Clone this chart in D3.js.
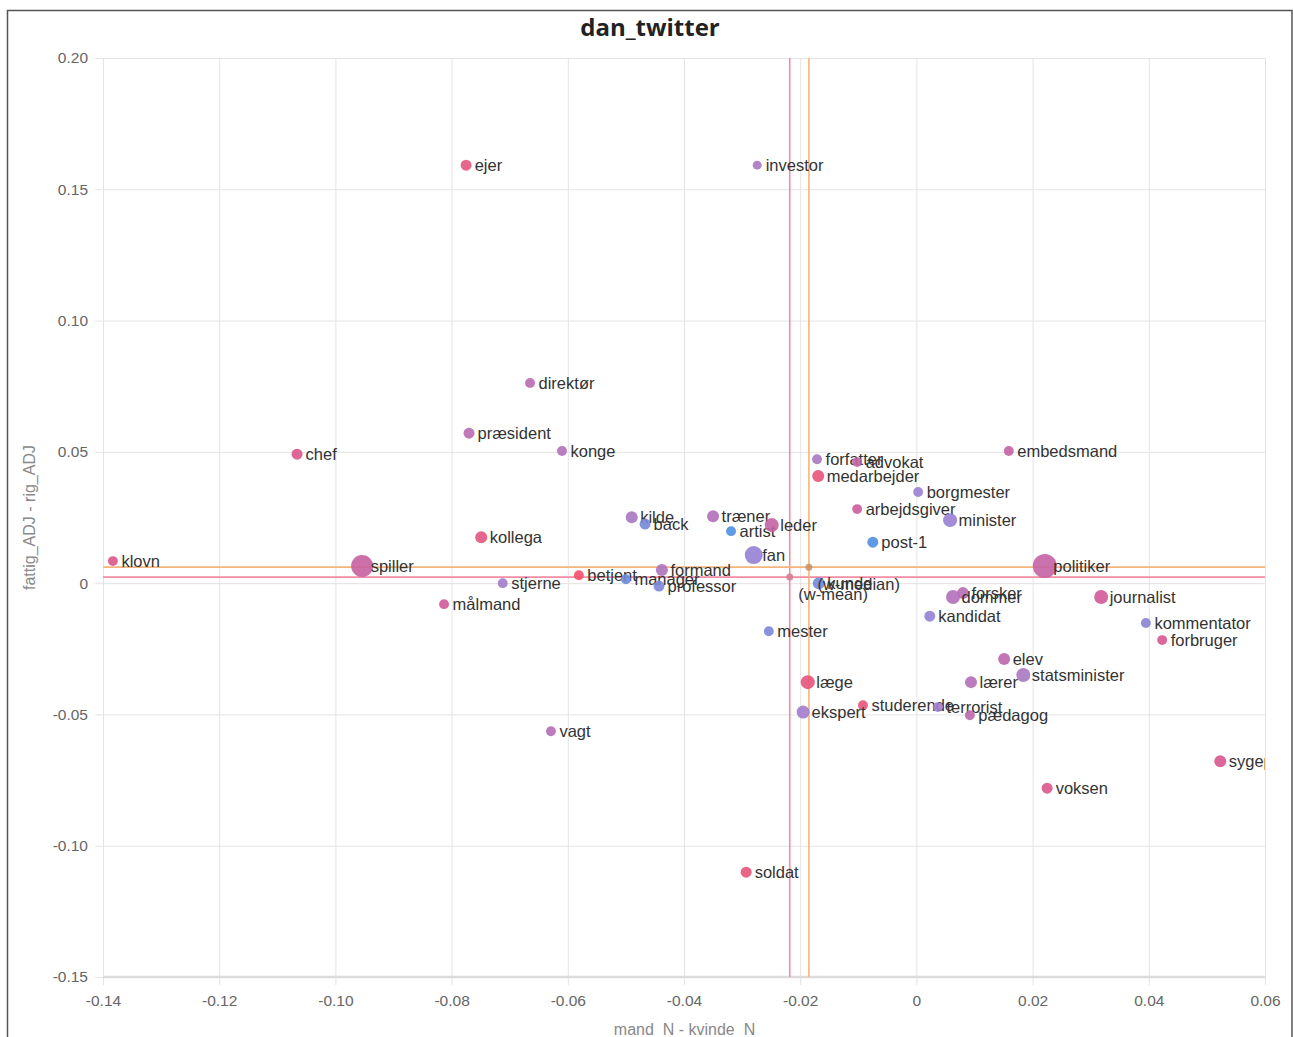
<!DOCTYPE html>
<html>
<head>
<meta charset="utf-8">
<script src="https://cdn.jsdelivr.net/npm/d3@7"></script>
<style>
  html, body { margin: 0; padding: 0; background: #fff; }
  svg { display: block; }
</style>
</head>
<body>
<svg id="chart" width="1293" height="1037"></svg>
<script>
// Words and their positions: x = mand_N - kvinde_N, y = fattig_ADJ - rig_ADJ
const words = ["ejer","investor","direktør","præsident","chef","konge","forfatter","advokat","medarbejder","embedsmand",
  "borgmester","arbejdsgiver","minister","kilde","back","træner","artist","leder","post-1","fan",
  "kollega","klovn","spiller","politiker","formand","betjent","manager","professor","stjerne","kunde",
  "forsker","dommer","journalist","målmand","kandidat","kommentator","forbruger","mester","elev","statsminister",
  "læge","lærer","studerende","terrorist","pædagog","ekspert","vagt","sygeplejerske","voksen","soldat"];
const xValues = [-0.0775,-0.0274,-0.0665,-0.0770,-0.1066,-0.0610,-0.0171,-0.0102,-0.0169,0.0159,
  0.0003,-0.0102,0.0058,-0.0490,-0.0467,-0.0350,-0.0319,-0.0249,-0.0075,-0.0280,
  -0.0749,-0.1383,-0.0954,0.0221,-0.0438,-0.0581,-0.0500,-0.0443,-0.0712,-0.0168,
  0.0080,0.0063,0.0318,-0.0813,0.0023,0.0395,0.0423,-0.0254,0.0151,0.0184,
  -0.0187,0.0094,-0.0092,0.0037,0.0092,-0.0195,-0.0629,0.0523,0.0225,-0.0293];
const yValues = [0.1592,0.1592,0.0762,0.0571,0.0491,0.0503,0.0472,0.0461,0.0408,0.0503,
  0.0347,0.0282,0.0240,0.0251,0.0225,0.0255,0.0198,0.0221,0.0156,0.0107,
  0.0175,0.0084,0.0065,0.0065,0.0050,0.0030,0.0015,-0.0011,0.0000,0.0000,
  -0.0038,-0.0053,-0.0053,-0.0080,-0.0126,-0.0152,-0.0217,-0.0183,-0.0289,-0.0350,
  -0.0377,-0.0377,-0.0465,-0.0472,-0.0503,-0.0491,-0.0564,-0.0678,-0.0781,-0.1101];
// Relative frequency of each word (marker area)
const weights = [21,14,17,21,21,17,17,17,25,17,
  17,17,34,25,21,25,17,34,21,56,
  25,17,84,100,25,17,17,21,17,25,
  25,34,34,17,21,17,17,17,25,34,
  34,25,17,17,17,29,17,25,21,21];
// Gender lean of the word's contexts (0 = blue end, 1 = red end)
const shades = [0.86,0.45,0.55,0.55,0.80,0.50,0.45,0.60,0.90,0.62,
  0.35,0.68,0.35,0.45,0.20,0.50,0.00,0.62,0.02,0.33,
  0.85,0.80,0.65,0.62,0.48,1.00,0.15,0.22,0.40,0.18,
  0.55,0.50,0.70,0.72,0.33,0.28,0.75,0.22,0.58,0.45,
  0.88,0.52,0.88,0.38,0.58,0.40,0.52,0.75,0.78,0.90];

// Weighted mean and median of the cloud
const meanPoint = { x: -0.0218, y: 0.0023, label: "(w-mean)" };
const medianPoint = { x: -0.0185, y: 0.0061, label: "(w-median)" };

const xTicks = [-0.14,-0.12,-0.10,-0.08,-0.06,-0.04,-0.02,0,0.02,0.04,0.06];
const yTicks = [0.20,0.15,0.10,0.05,0,-0.05,-0.10,-0.15];

const titleText = "dan_twitter";
const xTitle = "mand_N - kvinde_N";
const yTitle = "fattig_ADJ - rig_ADJ";

const svg = d3.select("#chart");
const W = 1293, H = 1037;
const plot = { left: 103, right: 1265, top: 58, bottom: 977 };

const x = d3.scaleLinear().domain([-0.14, 0.06]).range([plot.left, plot.right]);
const y = d3.scaleLinear().domain([-0.15, 0.20]).range([plot.bottom, plot.top]);
const r = d3.scaleSqrt().domain([0, 100]).range([0, 12]);
const color = d3.scaleLinear()
  .domain([0, 0.35, 0.7, 1])
  .range(["#4a90e2", "#9a80d2", "#d05a98", "#f5506a"])
  .interpolate(d3.interpolateRgb);

const locale = d3.formatLocale({ decimal: ".", thousands: ",", grouping: [3], currency: ["", ""], minus: "-" });
const fmt = d => d === 0 ? "0" : locale.format(".2f")(d);

// Outer frame
svg.append("rect")
  .attr("x", 7.5).attr("y", 10.5)
  .attr("width", 1284.5).attr("height", H + 20)
  .attr("fill", "none").attr("stroke", "#555").attr("stroke-width", 1.5);

// Title
svg.append("text")
  .attr("x", 650).attr("y", 36)
  .attr("text-anchor", "middle")
  .attr("font-family", "'Open Sans', sans-serif")
  .attr("font-weight", 700).attr("font-size", 24)
  .attr("fill", "#222")
  .text(titleText);

// Gridlines via axes
const gx = svg.append("g")
  .attr("transform", `translate(0,${plot.bottom})`)
  .call(d3.axisBottom(x).tickValues(xTicks).tickFormat(fmt)
    .tickSizeInner(-(plot.bottom - plot.top)).tickSizeOuter(0).tickPadding(20));
gx.select(".domain").remove();
gx.selectAll(".tick line").attr("stroke", "#e4e4e4").attr("y2", 8).attr("y1", -(plot.bottom - plot.top));
gx.selectAll(".tick text")
  .attr("font-family", "'Liberation Sans', Arial, sans-serif")
  .attr("font-size", 15.5).attr("fill", "#666").attr("dy", "0.55em");

const gy = svg.append("g")
  .attr("transform", `translate(${plot.left},0)`)
  .call(d3.axisLeft(y).tickValues(yTicks).tickFormat(fmt)
    .tickSizeInner(-(plot.right - plot.left)).tickSizeOuter(0).tickPadding(15));
gy.select(".domain").remove();
gy.selectAll(".tick line").attr("stroke", "#e4e4e4").attr("x1", -8).attr("x2", plot.right - plot.left);
gy.selectAll(".tick text")
  .attr("font-family", "'Liberation Sans', Arial, sans-serif")
  .attr("font-size", 15.5).attr("fill", "#666");

// Bottom baseline
svg.append("line")
  .attr("x1", plot.left).attr("x2", plot.right)
  .attr("y1", y(-0.15)).attr("y2", y(-0.15))
  .attr("stroke", "#dcdcdc").attr("stroke-width", 2.5);

// Axis titles
svg.append("text")
  .attr("x", (plot.left + plot.right) / 2 + 0.5).attr("y", 1035)
  .attr("text-anchor", "middle")
  .attr("font-family", "'Liberation Sans', Arial, sans-serif")
  .attr("font-size", 16).attr("fill", "#888")
  .text(xTitle);
svg.append("text")
  .attr("transform", `translate(35,${(plot.top + plot.bottom) / 2}) rotate(-90)`)
  .attr("text-anchor", "middle")
  .attr("font-family", "'Liberation Sans', Arial, sans-serif")
  .attr("font-size", 16).attr("fill", "#888")
  .text(yTitle);

// Clip to plot area
svg.append("defs").append("clipPath").attr("id", "plotClip")
  .append("rect")
  .attr("x", plot.left).attr("y", plot.top)
  .attr("width", plot.right - plot.left).attr("height", plot.bottom - plot.top);

const area = svg.append("g").attr("clip-path", "url(#plotClip)");

// Mean / median reference lines
const refs = [
  { p: meanPoint, stroke: "#f08ca4", dot: "#cf7f92" },
  { p: medianPoint, stroke: "#f5b57a", dot: "#c49266" }
];
refs.forEach(ref => {
  area.append("line")
    .attr("x1", x(ref.p.x)).attr("x2", x(ref.p.x))
    .attr("y1", plot.top).attr("y2", plot.bottom)
    .attr("stroke", ref.stroke).attr("stroke-width", 1.6);
  area.append("line")
    .attr("x1", plot.left).attr("x2", plot.right)
    .attr("y1", y(ref.p.y)).attr("y2", y(ref.p.y))
    .attr("stroke", ref.stroke).attr("stroke-width", 1.6);
});

const data = words.map((w, i) => ({
  word: w, x: xValues[i], y: yValues[i], w: weights[i], s: shades[i]
}));

const labelFont = "'Liberation Sans', Arial, sans-serif";

// Points and labels
const pts = area.append("g").selectAll("g").data(data).join("g");
pts.append("circle")
  .attr("cx", d => x(d.x)).attr("cy", d => y(d.y))
  .attr("r", d => r(d.w))
  .attr("fill", d => color(d.s))
  .attr("fill-opacity", 0.9);
pts.append("text")
  .attr("x", d => x(d.x) + 8.5).attr("y", d => y(d.y))
  .attr("dy", "0.35em")
  .attr("font-family", labelFont).attr("font-size", 16.5)
  .attr("fill", "#333")
  .text(d => d.word);

// Mean / median markers
refs.forEach(ref => {
  area.append("circle")
    .attr("cx", x(ref.p.x)).attr("cy", y(ref.p.y))
    .attr("r", 3.5).attr("fill", ref.dot).attr("fill-opacity", 0.85);
  area.append("text")
    .attr("x", x(ref.p.x) + 8.5).attr("y", y(ref.p.y) + 17)
    .attr("dy", "0.35em")
    .attr("font-family", labelFont).attr("font-size", 16.5)
    .attr("fill", "#333")
    .text(ref.p.label);
});
</script>
</body>
</html>
